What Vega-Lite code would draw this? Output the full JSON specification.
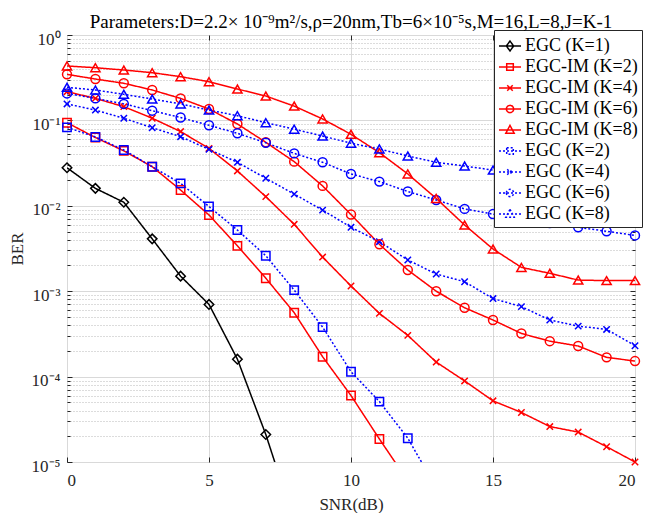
{
  "$schema": "https://vega.github.io/schema/vega-lite/v6.json",
  "width": 568,
  "height": 427,
  "autosize": {"type": "none"},
  "padding": {"left": 67, "top": 35, "right": 11, "bottom": 51},
  "background": "white",
  "config": {
    "view": {"stroke": "#262626", "strokeWidth": 1},
    "font": "Liberation Serif",
    "axis": {"labelFont": "Liberation Serif", "titleFont": "Liberation Serif", "labelColor": "#262626", "titleColor": "#262626", "tickColor": "#262626", "domain": false}
  },
  "title": {
    "text": "Parameters:D=2.2× 10⁻⁹m²/s,ρ=20nm,Tb=6×10⁻⁵s,M=16,L=8,J=K-1",
    "font": "Liberation Serif",
    "fontSize": 19,
    "fontWeight": "normal",
    "color": "black",
    "anchor": "middle",
    "offset": -2
  },
  "data": {
    "values": [
      {"series": "EGC (K=1)", "snr": 0, "ber": 0.0279},
      {"series": "EGC (K=1)", "snr": 1, "ber": 0.016},
      {"series": "EGC (K=1)", "snr": 2, "ber": 0.011},
      {"series": "EGC (K=1)", "snr": 3, "ber": 0.0041},
      {"series": "EGC (K=1)", "snr": 4, "ber": 0.0015},
      {"series": "EGC (K=1)", "snr": 5, "ber": 0.0007},
      {"series": "EGC (K=1)", "snr": 6, "ber": 0.00016},
      {"series": "EGC (K=1)", "snr": 7, "ber": 0.000021},
      {"series": "EGC (K=1)", "snr": 8, "ber": 0.000002},

      {"series": "EGC-IM (K=2)", "snr": 0, "ber": 0.094},
      {"series": "EGC-IM (K=2)", "snr": 1, "ber": 0.063},
      {"series": "EGC-IM (K=2)", "snr": 2, "ber": 0.044},
      {"series": "EGC-IM (K=2)", "snr": 3, "ber": 0.0287},
      {"series": "EGC-IM (K=2)", "snr": 4, "ber": 0.0153},
      {"series": "EGC-IM (K=2)", "snr": 5, "ber": 0.0078},
      {"series": "EGC-IM (K=2)", "snr": 6, "ber": 0.0034},
      {"series": "EGC-IM (K=2)", "snr": 7, "ber": 0.00142},
      {"series": "EGC-IM (K=2)", "snr": 8, "ber": 0.00056},
      {"series": "EGC-IM (K=2)", "snr": 9, "ber": 0.000171},
      {"series": "EGC-IM (K=2)", "snr": 10, "ber": 0.00006},
      {"series": "EGC-IM (K=2)", "snr": 11, "ber": 0.0000186},
      {"series": "EGC-IM (K=2)", "snr": 12, "ber": 0.000006},

      {"series": "EGC-IM (K=4)", "snr": 0, "ber": 0.217},
      {"series": "EGC-IM (K=4)", "snr": 1, "ber": 0.181},
      {"series": "EGC-IM (K=4)", "snr": 2, "ber": 0.145},
      {"series": "EGC-IM (K=4)", "snr": 3, "ber": 0.106},
      {"series": "EGC-IM (K=4)", "snr": 4, "ber": 0.074},
      {"series": "EGC-IM (K=4)", "snr": 5, "ber": 0.047},
      {"series": "EGC-IM (K=4)", "snr": 6, "ber": 0.0256},
      {"series": "EGC-IM (K=4)", "snr": 7, "ber": 0.0128},
      {"series": "EGC-IM (K=4)", "snr": 8, "ber": 0.00607},
      {"series": "EGC-IM (K=4)", "snr": 9, "ber": 0.00251},
      {"series": "EGC-IM (K=4)", "snr": 10, "ber": 0.00115},
      {"series": "EGC-IM (K=4)", "snr": 11, "ber": 0.00055},
      {"series": "EGC-IM (K=4)", "snr": 12, "ber": 0.000304},
      {"series": "EGC-IM (K=4)", "snr": 13, "ber": 0.000148},
      {"series": "EGC-IM (K=4)", "snr": 14, "ber": 0.000089},
      {"series": "EGC-IM (K=4)", "snr": 15, "ber": 0.000052},
      {"series": "EGC-IM (K=4)", "snr": 16, "ber": 0.000038},
      {"series": "EGC-IM (K=4)", "snr": 17, "ber": 0.000026},
      {"series": "EGC-IM (K=4)", "snr": 18, "ber": 0.0000224},
      {"series": "EGC-IM (K=4)", "snr": 19, "ber": 0.0000151},
      {"series": "EGC-IM (K=4)", "snr": 20, "ber": 0.00001},

      {"series": "EGC-IM (K=6)", "snr": 0, "ber": 0.346},
      {"series": "EGC-IM (K=6)", "snr": 1, "ber": 0.305},
      {"series": "EGC-IM (K=6)", "snr": 2, "ber": 0.272},
      {"series": "EGC-IM (K=6)", "snr": 3, "ber": 0.227},
      {"series": "EGC-IM (K=6)", "snr": 4, "ber": 0.181},
      {"series": "EGC-IM (K=6)", "snr": 5, "ber": 0.136},
      {"series": "EGC-IM (K=6)", "snr": 6, "ber": 0.0907},
      {"series": "EGC-IM (K=6)", "snr": 7, "ber": 0.0554},
      {"series": "EGC-IM (K=6)", "snr": 8, "ber": 0.0329},
      {"series": "EGC-IM (K=6)", "snr": 9, "ber": 0.0171},
      {"series": "EGC-IM (K=6)", "snr": 10, "ber": 0.0079},
      {"series": "EGC-IM (K=6)", "snr": 11, "ber": 0.00354},
      {"series": "EGC-IM (K=6)", "snr": 12, "ber": 0.00177},
      {"series": "EGC-IM (K=6)", "snr": 13, "ber": 0.001},
      {"series": "EGC-IM (K=6)", "snr": 14, "ber": 0.00064},
      {"series": "EGC-IM (K=6)", "snr": 15, "ber": 0.00046},
      {"series": "EGC-IM (K=6)", "snr": 16, "ber": 0.00032},
      {"series": "EGC-IM (K=6)", "snr": 17, "ber": 0.00026},
      {"series": "EGC-IM (K=6)", "snr": 18, "ber": 0.000228},
      {"series": "EGC-IM (K=6)", "snr": 19, "ber": 0.000168},
      {"series": "EGC-IM (K=6)", "snr": 20, "ber": 0.000152},

      {"series": "EGC-IM (K=8)", "snr": 0, "ber": 0.434},
      {"series": "EGC-IM (K=8)", "snr": 1, "ber": 0.414},
      {"series": "EGC-IM (K=8)", "snr": 2, "ber": 0.389},
      {"series": "EGC-IM (K=8)", "snr": 3, "ber": 0.362},
      {"series": "EGC-IM (K=8)", "snr": 4, "ber": 0.325},
      {"series": "EGC-IM (K=8)", "snr": 5, "ber": 0.284},
      {"series": "EGC-IM (K=8)", "snr": 6, "ber": 0.233},
      {"series": "EGC-IM (K=8)", "snr": 7, "ber": 0.193},
      {"series": "EGC-IM (K=8)", "snr": 8, "ber": 0.147},
      {"series": "EGC-IM (K=8)", "snr": 9, "ber": 0.104},
      {"series": "EGC-IM (K=8)", "snr": 10, "ber": 0.0687},
      {"series": "EGC-IM (K=8)", "snr": 11, "ber": 0.0419},
      {"series": "EGC-IM (K=8)", "snr": 12, "ber": 0.0236},
      {"series": "EGC-IM (K=8)", "snr": 13, "ber": 0.0122},
      {"series": "EGC-IM (K=8)", "snr": 14, "ber": 0.00596},
      {"series": "EGC-IM (K=8)", "snr": 15, "ber": 0.00312},
      {"series": "EGC-IM (K=8)", "snr": 16, "ber": 0.0019},
      {"series": "EGC-IM (K=8)", "snr": 17, "ber": 0.00162},
      {"series": "EGC-IM (K=8)", "snr": 18, "ber": 0.00135},
      {"series": "EGC-IM (K=8)", "snr": 19, "ber": 0.00133},
      {"series": "EGC-IM (K=8)", "snr": 20, "ber": 0.00133},

      {"series": "EGC (K=2)", "snr": 0, "ber": 0.083},
      {"series": "EGC (K=2)", "snr": 1, "ber": 0.064},
      {"series": "EGC (K=2)", "snr": 2, "ber": 0.045},
      {"series": "EGC (K=2)", "snr": 3, "ber": 0.0287},
      {"series": "EGC (K=2)", "snr": 4, "ber": 0.0183},
      {"series": "EGC (K=2)", "snr": 5, "ber": 0.0098},
      {"series": "EGC (K=2)", "snr": 6, "ber": 0.0052},
      {"series": "EGC (K=2)", "snr": 7, "ber": 0.0026},
      {"series": "EGC (K=2)", "snr": 8, "ber": 0.00103},
      {"series": "EGC (K=2)", "snr": 9, "ber": 0.00038},
      {"series": "EGC (K=2)", "snr": 10, "ber": 0.000114},
      {"series": "EGC (K=2)", "snr": 11, "ber": 0.000051},
      {"series": "EGC (K=2)", "snr": 12, "ber": 0.000019},
      {"series": "EGC (K=2)", "snr": 13, "ber": 0.000005},

      {"series": "EGC (K=4)", "snr": 0, "ber": 0.156},
      {"series": "EGC (K=4)", "snr": 1, "ber": 0.132},
      {"series": "EGC (K=4)", "snr": 2, "ber": 0.106},
      {"series": "EGC (K=4)", "snr": 3, "ber": 0.082},
      {"series": "EGC (K=4)", "snr": 4, "ber": 0.0645},
      {"series": "EGC (K=4)", "snr": 5, "ber": 0.0458},
      {"series": "EGC (K=4)", "snr": 6, "ber": 0.0323},
      {"series": "EGC (K=4)", "snr": 7, "ber": 0.021},
      {"series": "EGC (K=4)", "snr": 8, "ber": 0.0137},
      {"series": "EGC (K=4)", "snr": 9, "ber": 0.0089},
      {"series": "EGC (K=4)", "snr": 10, "ber": 0.0056},
      {"series": "EGC (K=4)", "snr": 11, "ber": 0.0038},
      {"series": "EGC (K=4)", "snr": 12, "ber": 0.00232},
      {"series": "EGC (K=4)", "snr": 13, "ber": 0.00159},
      {"series": "EGC (K=4)", "snr": 14, "ber": 0.00129},
      {"series": "EGC (K=4)", "snr": 15, "ber": 0.00082},
      {"series": "EGC (K=4)", "snr": 16, "ber": 0.00066},
      {"series": "EGC (K=4)", "snr": 17, "ber": 0.00046},
      {"series": "EGC (K=4)", "snr": 18, "ber": 0.00039},
      {"series": "EGC (K=4)", "snr": 19, "ber": 0.000357},
      {"series": "EGC (K=4)", "snr": 20, "ber": 0.00023},

      {"series": "EGC (K=6)", "snr": 0, "ber": 0.207},
      {"series": "EGC (K=6)", "snr": 1, "ber": 0.181},
      {"series": "EGC (K=6)", "snr": 2, "ber": 0.156},
      {"series": "EGC (K=6)", "snr": 3, "ber": 0.13},
      {"series": "EGC (K=6)", "snr": 4, "ber": 0.108},
      {"series": "EGC (K=6)", "snr": 5, "ber": 0.0876},
      {"series": "EGC (K=6)", "snr": 6, "ber": 0.0706},
      {"series": "EGC (K=6)", "snr": 7, "ber": 0.0548},
      {"series": "EGC (K=6)", "snr": 8, "ber": 0.0411},
      {"series": "EGC (K=6)", "snr": 9, "ber": 0.0323},
      {"series": "EGC (K=6)", "snr": 10, "ber": 0.0236},
      {"series": "EGC (K=6)", "snr": 11, "ber": 0.0192},
      {"series": "EGC (K=6)", "snr": 12, "ber": 0.0147},
      {"series": "EGC (K=6)", "snr": 13, "ber": 0.0117},
      {"series": "EGC (K=6)", "snr": 14, "ber": 0.0092},
      {"series": "EGC (K=6)", "snr": 15, "ber": 0.008},
      {"series": "EGC (K=6)", "snr": 16, "ber": 0.0071},
      {"series": "EGC (K=6)", "snr": 17, "ber": 0.0063},
      {"series": "EGC (K=6)", "snr": 18, "ber": 0.0056},
      {"series": "EGC (K=6)", "snr": 19, "ber": 0.00503},
      {"series": "EGC (K=6)", "snr": 20, "ber": 0.0045},

      {"series": "EGC (K=8)", "snr": 0, "ber": 0.244},
      {"series": "EGC (K=8)", "snr": 1, "ber": 0.227},
      {"series": "EGC (K=8)", "snr": 2, "ber": 0.202},
      {"series": "EGC (K=8)", "snr": 3, "ber": 0.178},
      {"series": "EGC (K=8)", "snr": 4, "ber": 0.156},
      {"series": "EGC (K=8)", "snr": 5, "ber": 0.132},
      {"series": "EGC (K=8)", "snr": 6, "ber": 0.1135},
      {"series": "EGC (K=8)", "snr": 7, "ber": 0.094},
      {"series": "EGC (K=8)", "snr": 8, "ber": 0.079},
      {"series": "EGC (K=8)", "snr": 9, "ber": 0.0656},
      {"series": "EGC (K=8)", "snr": 10, "ber": 0.054},
      {"series": "EGC (K=8)", "snr": 11, "ber": 0.0463},
      {"series": "EGC (K=8)", "snr": 12, "ber": 0.0383},
      {"series": "EGC (K=8)", "snr": 13, "ber": 0.0323},
      {"series": "EGC (K=8)", "snr": 14, "ber": 0.0292},
      {"series": "EGC (K=8)", "snr": 15, "ber": 0.0262},
      {"series": "EGC (K=8)", "snr": 16, "ber": 0.0238},
      {"series": "EGC (K=8)", "snr": 17, "ber": 0.0216},
      {"series": "EGC (K=8)", "snr": 18, "ber": 0.0196},
      {"series": "EGC (K=8)", "snr": 19, "ber": 0.0178},
      {"series": "EGC (K=8)", "snr": 20, "ber": 0.0162}
    ]
  },
  "layer": [
    {
      "mark": {"type": "point", "opacity": 0},
      "encoding": {
        "x": {"field": "snr", "type": "quantitative", "scale": {"domain": [0, 20], "nice": false, "zero": false},
          "axis": {"orient": "top", "values": [5, 10, 15], "labels": false, "grid": false, "tickSize": -5, "title": null}},
        "y": {"field": "ber", "type": "quantitative", "scale": {"type": "log", "domain": [0.00001, 1], "nice": false},
          "axis": {"orient": "left", "values": [0.00002,0.00003,0.00004,0.00005,0.00006,0.00007,0.00008,0.00009,0.0002,0.0003,0.0004,0.0005,0.0006,0.0007,0.0008,0.0009,0.002,0.003,0.004,0.005,0.006,0.007,0.008,0.009,0.02,0.03,0.04,0.05,0.06,0.07,0.08,0.09,0.2,0.3,0.4,0.5,0.6,0.7,0.8,0.9],
            "labels": false, "grid": true, "gridDash": [1, 2], "gridColor": "#b8b8b8", "gridWidth": 1, "tickSize": -3, "title": null}}
      }
    },
    {
      "mark": {"type": "point", "opacity": 0},
      "encoding": {
        "x": {"field": "snr", "type": "quantitative", "axis": null},
        "y": {"field": "ber", "type": "quantitative",
          "axis": {"orient": "right", "values": [0.00002,0.00003,0.00004,0.00005,0.00006,0.00007,0.00008,0.00009,0.0002,0.0003,0.0004,0.0005,0.0006,0.0007,0.0008,0.0009,0.002,0.003,0.004,0.005,0.006,0.007,0.008,0.009,0.02,0.03,0.04,0.05,0.06,0.07,0.08,0.09,0.2,0.3,0.4,0.5,0.6,0.7,0.8,0.9],
            "labels": false, "grid": false, "tickSize": -3, "title": null}}
      }
    },
    {
      "mark": {"type": "point", "opacity": 0},
      "encoding": {
        "x": {"field": "snr", "type": "quantitative", "axis": null},
        "y": {"field": "ber", "type": "quantitative",
          "axis": {"orient": "right", "values": [0.0001, 0.001, 0.01, 0.1], "labels": false, "grid": false, "tickSize": -5, "title": null}}
      }
    },
    {
      "mark": {"type": "line", "strokeWidth": 1.5, "clip": true},
      "encoding": {
        "x": {"field": "snr", "type": "quantitative",
          "axis": {"orient": "bottom", "values": [0, 5, 10, 15, 20], "grid": true, "gridColor": "#d9d9d9", "gridWidth": 1, "tickSize": -5,
            "labelFontSize": 17, "labelPadding": 15, "title": "SNR(dB)", "titleFontSize": 17, "titleFontWeight": "normal", "titlePadding": 8}},
        "y": {"field": "ber", "type": "quantitative",
          "axis": {"orient": "left", "values": [0.00001, 0.0001, 0.001, 0.01, 0.1, 1], "grid": true, "gridColor": "#d9d9d9", "gridWidth": 1, "tickSize": -5,
            "labelExpr": "['10⁻⁵','10⁻⁴','10⁻³','10⁻²','10⁻¹','10⁰'][round(log(datum.value)/LN10)+5]",
            "labelFontSize": 17, "labelPadding": 12, "labelOffset": 4, "title": "BER", "titleFontSize": 17, "titleFontWeight": "normal", "titlePadding": 5}},
        "color": {"field": "series", "type": "nominal",
          "scale": {"domain": ["EGC (K=1)", "EGC-IM (K=2)", "EGC-IM (K=4)", "EGC-IM (K=6)", "EGC-IM (K=8)", "EGC (K=2)", "EGC (K=4)", "EGC (K=6)", "EGC (K=8)"],
            "range": ["#000000", "#ff0000", "#ff0000", "#ff0000", "#ff0000", "#0000ff", "#0000ff", "#0000ff", "#0000ff"]},
          "legend": {
            "title": null, "orient": "none", "legendX": 427, "legendY": -5,
            "fillColor": "white", "strokeColor": "#262626", "padding": 4,
            "labelFont": "Liberation Serif", "labelFontSize": 18, "labelColor": "black", "labelOffset": 3, "labelLimit": 200,
            "symbolSize": 484, "rowPadding": 0, "symbolStrokeWidth": 1.5, "symbolType": "M-1,0H1",
            "encode": {"symbols": {"update": {
              "shape": {"signal": "indexof(datum.value,'K=1')>=0 ? 'M-1,0H1M0,-0.45L0.33,0L0,0.45L-0.33,0Z' : indexof(datum.value,'K=2')>=0 ? 'M-1,0H1M-0.3,-0.3H0.3V0.3H-0.3Z' : indexof(datum.value,'K=4')>=0 ? 'M-1,0H1M-0.25,-0.25L0.25,0.25M-0.25,0.25L0.25,-0.25' : indexof(datum.value,'K=6')>=0 ? 'M-1,0H1M-0.33,0A0.33,0.33 0 1,0 0.33,0A0.33,0.33 0 1,0 -0.33,0' : 'M-1,0H1M0,-0.42L0.38,0.3H-0.38Z'"},
              "strokeDash": {"signal": "indexof(datum.value,'EGC-IM')<0 && indexof(datum.value,'K=1')<0 ? [2,2] : [1,0]"},
              "fill": {"value": "transparent"}
            }}}
          }},
        "strokeDash": {"field": "series", "type": "nominal",
          "scale": {"domain": ["EGC (K=1)", "EGC-IM (K=2)", "EGC-IM (K=4)", "EGC-IM (K=6)", "EGC-IM (K=8)", "EGC (K=2)", "EGC (K=4)", "EGC (K=6)", "EGC (K=8)"],
            "range": [[1, 0], [1, 0], [1, 0], [1, 0], [1, 0], [2, 2], [2, 2], [2, 2], [2, 2]]},
          "legend": null}
      }
    },
    {
      "transform": [{"filter": "datum.ber >= 0.0000099 && indexof(datum.series,'K=1')>=0"}],
      "mark": {"type": "point", "shape": "diamond", "filled": false, "strokeWidth": 1.5, "size": 90, "opacity": 1},
      "encoding": {
        "x": {"field": "snr", "type": "quantitative", "axis": null},
        "y": {"field": "ber", "type": "quantitative", "axis": null},
        "color": {"field": "series", "type": "nominal", "legend": null}
      }
    },
    {
      "transform": [{"filter": "datum.ber >= 0.0000099 && indexof(datum.series,'K=2')>=0"}],
      "mark": {"type": "point", "shape": "square", "filled": false, "strokeWidth": 1.5, "size": 70, "opacity": 1},
      "encoding": {
        "x": {"field": "snr", "type": "quantitative", "axis": null},
        "y": {"field": "ber", "type": "quantitative", "axis": null},
        "color": {"field": "series", "type": "nominal", "legend": null}
      }
    },
    {
      "transform": [{"filter": "datum.ber >= 0.0000099 && indexof(datum.series,'K=4')>=0"}],
      "mark": {"type": "point", "shape": "M-0.8,-0.8L0.8,0.8M-0.8,0.8L0.8,-0.8", "filled": false, "strokeWidth": 1.5, "size": 64, "opacity": 1},
      "encoding": {
        "x": {"field": "snr", "type": "quantitative", "axis": null},
        "y": {"field": "ber", "type": "quantitative", "axis": null},
        "color": {"field": "series", "type": "nominal", "legend": null}
      }
    },
    {
      "transform": [{"filter": "datum.ber >= 0.0000099 && indexof(datum.series,'K=6')>=0"}],
      "mark": {"type": "point", "shape": "circle", "filled": false, "strokeWidth": 1.5, "size": 80, "opacity": 1},
      "encoding": {
        "x": {"field": "snr", "type": "quantitative", "axis": null},
        "y": {"field": "ber", "type": "quantitative", "axis": null},
        "color": {"field": "series", "type": "nominal", "legend": null}
      }
    },
    {
      "transform": [{"filter": "datum.ber >= 0.0000099 && indexof(datum.series,'K=8')>=0"}],
      "mark": {"type": "point", "shape": "triangle-up", "filled": false, "strokeWidth": 1.5, "size": 85, "opacity": 1},
      "encoding": {
        "x": {"field": "snr", "type": "quantitative", "axis": null},
        "y": {"field": "ber", "type": "quantitative", "axis": null},
        "color": {"field": "series", "type": "nominal", "legend": null}
      }
    }
  ],
  "resolve": {"axis": {"x": "independent", "y": "independent"}}
}
